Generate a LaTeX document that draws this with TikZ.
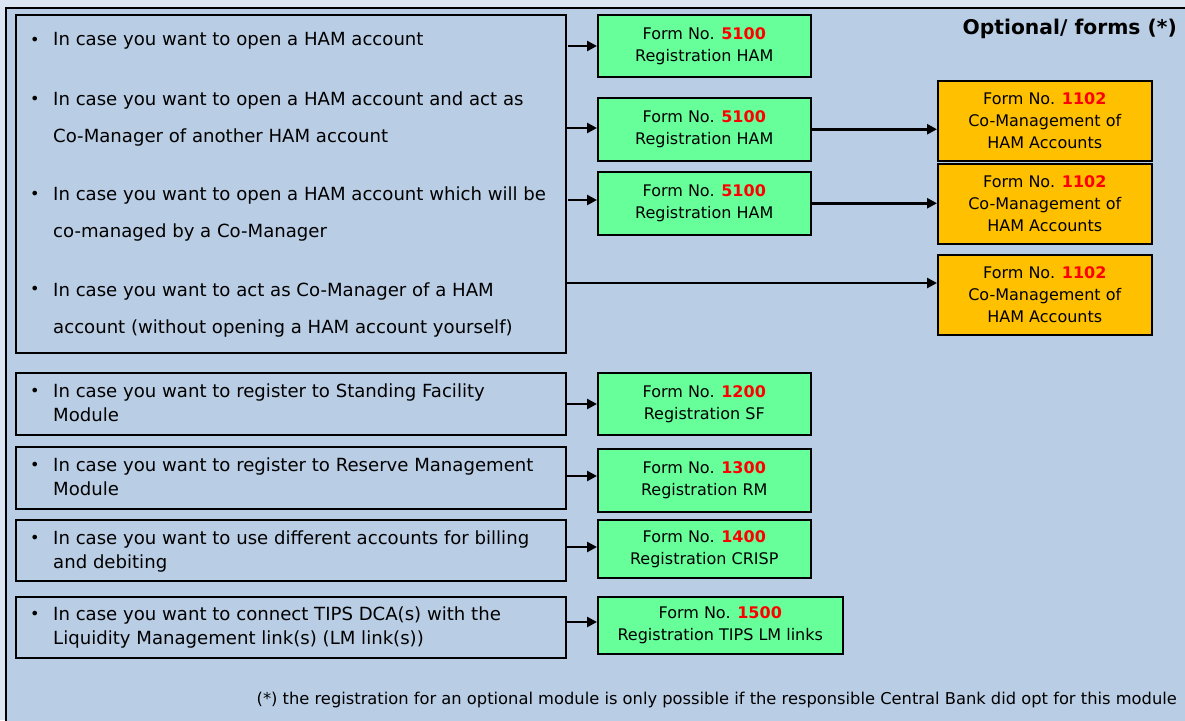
\documentclass[tikz,border=0pt]{standalone}
\usepackage{fontspec}
\setmainfont{DejaVu Sans}
\usetikzlibrary{arrows.meta}
\definecolor{bgout}{HTML}{DCE6F2}
\definecolor{bgin}{HTML}{B9CDE5}
\definecolor{formgreen}{HTML}{66FF99}
\definecolor{formorange}{HTML}{FFC000}
\definecolor{numred}{HTML}{FF0000}
\newcommand{\fno}[1]{Form No. \textcolor{numred}{\bfseries #1}}
\tikzset{
  leftbox/.style={draw=black, line width=1.5pt, fill=bgin, anchor=north west, inner sep=0pt},
  greenbox/.style={draw=black, line width=1.5pt, fill=formgreen, anchor=north west, inner sep=0pt, align=center, font=\fontsize{16}{22}\selectfont},
  orangebox/.style={draw=black, line width=1.5pt, fill=formorange, anchor=north west, inner sep=0pt, align=center, font=\fontsize{16}{22}\selectfont},
  bul/.style={anchor=west, inner sep=0pt, font=\fontsize{16}{24}\selectfont},
  itemtxt/.style={anchor=north west, inner sep=0pt, align=left, font=\fontsize{18.1}{24}\selectfont},
  itemwide/.style={itemtxt, font=\fontsize{18.1}{36.5}\selectfont},
  arr/.style={-{Triangle[length=10pt,width=10pt]}, line width=2.6pt},
}
\begin{document}
\begin{tikzpicture}[x=1pt,y=-1pt]
\useasboundingbox (0,0) rectangle (1185,720);
\begin{scope}
\clip (0,0) rectangle (1185,720);
\fill[bgout] (0,0) rectangle (1185,720);
\draw[fill=bgin, line width=1.5pt] (6,8) rectangle (1195,730);
\end{scope}

% big left box
\node[leftbox, minimum width=550, minimum height=338] (b1) at (15,14) {};
\node[bul] (u1) at (30,41) {•};
\node[itemtxt, anchor=west] (t1) at (53,41) {In case you want to open a HAM account};
\node[bul] (u2) at (30,100) {•};
\node[itemwide, anchor=north west] (t2) at (53,92) {In case you want to open a HAM account and act as\\Co-Manager of another HAM account};
\node[bul] (u3) at (30,195) {•};
\node[itemwide] (t3) at (53,187) {In case you want to open a HAM account which will be\\co-managed by a Co-Manager};
\node[bul] (u4) at (30,290) {•};
\node[itemwide] (t4) at (53,283) {In case you want to act as Co-Manager of a HAM\\account (without opening a HAM account yourself)};

% lower left boxes
\node[leftbox, minimum width=550, minimum height=62] (b5) at (15,372) {};
\node[bul] (u5) at (30,392) {•};
\node[itemtxt] (t5) at (53,384) {In case you want to register to Standing Facility\\Module};
\node[leftbox, minimum width=550, minimum height=62] (b6) at (15,446) {};
\node[bul] (u6) at (30,466) {•};
\node[itemtxt] (t6) at (53,458) {In case you want to register to Reserve Management\\Module};
\node[leftbox, minimum width=550, minimum height=61] (b7) at (15,519) {};
\node[bul] (u7) at (30,539) {•};
\node[itemtxt] (t7) at (53,531) {In case you want to use different accounts for billing\\and debiting};
\node[leftbox, minimum width=550, minimum height=61] (b8) at (15,596) {};
\node[bul] (u8) at (30,615) {•};
\node[itemtxt] (t8) at (53,607) {In case you want to connect TIPS DCA(s) with the\\Liquidity Management link(s) (LM link(s))};

% green boxes
\node[greenbox, minimum width=213, minimum height=62] (g1) at (597,14) {\fno{5100}\\Registration HAM};
\node[greenbox, minimum width=213, minimum height=63] (g2) at (597,97) {\fno{5100}\\Registration HAM};
\node[greenbox, minimum width=213, minimum height=63] (g3) at (597,171) {\fno{5100}\\Registration HAM};
\node[greenbox, minimum width=213, minimum height=62] (g5) at (597,372) {\fno{1200}\\Registration SF};
\node[greenbox, minimum width=213, minimum height=63] (g6) at (597,448) {\fno{1300}\\Registration RM};
\node[greenbox, minimum width=213, minimum height=58] (g7) at (597,519) {\fno{1400}\\Registration CRISP};
\node[greenbox, minimum width=245, minimum height=57] (g8) at (597,596) {\fno{1500}\\Registration TIPS LM links};

% orange boxes
\node[orangebox, minimum width=214, minimum height=80] (o1) at (937,80) {\fno{1102}\\Co-Management of\\HAM Accounts};
\node[orangebox, minimum width=214, minimum height=80] (o2) at (937,163) {\fno{1102}\\Co-Management of\\HAM Accounts};
\node[orangebox, minimum width=214, minimum height=80] (o3) at (937,254) {\fno{1102}\\Co-Management of\\HAM Accounts};

% title and footnote
\node[anchor=east, inner sep=0pt, font=\fontsize{20.3}{24}\selectfont\bfseries] (title) at (1177,29) {Optional/ forms (*)};
\node[anchor=east, inner sep=0pt, font=\fontsize{16.3}{20}\selectfont] (foot) at (1177,700) {(*) the registration for an optional module is only possible if the responsible Central Bank did opt for this module};

% connectors
\coordinate (c1) at (568,46);
\coordinate (c2) at (567,128);
\coordinate (c3) at (568,200);
\coordinate (c4) at (567,283);
\coordinate (c5) at (567,404);
\coordinate (c6) at (567,476);
\coordinate (c7) at (567,547);
\coordinate (c8) at (567,622);
\draw[arr] (c1) -- (c1 -| g1.west);
\draw[arr] (c2) -- (c2 -| g2.west);
\draw[arr] (c3) -- (c3 -| g3.west);
\draw[arr] (c4) -- (c4 -| o3.west);
\draw[arr] (g2.east) -- (g2.east -| o1.west);
\draw[arr] (g3.east) -- (g3.east -| o2.west);
\draw[arr] (c5) -- (c5 -| g5.west);
\draw[arr] (c6) -- (c6 -| g6.west);
\draw[arr] (c7) -- (c7 -| g7.west);
\draw[arr] (c8) -- (c8 -| g8.west);
\end{tikzpicture}
\end{document}
